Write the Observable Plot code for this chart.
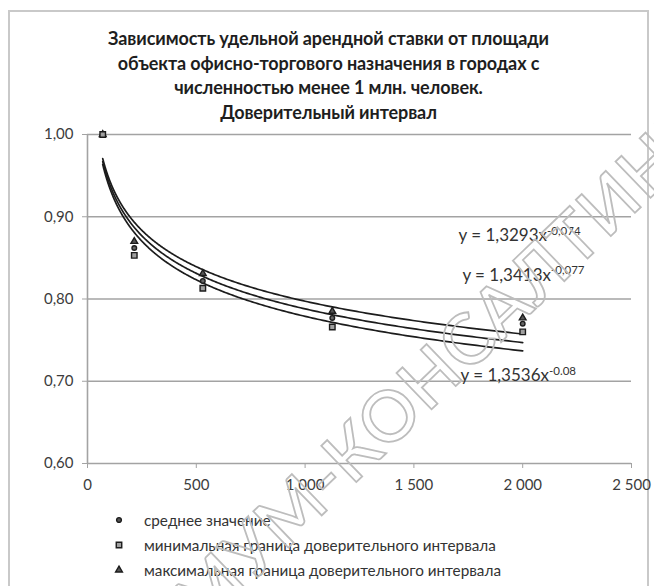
<!DOCTYPE html>
<html><head><meta charset="utf-8">
<script src="https://cdn.jsdelivr.net/npm/d3@7"></script>
<script src="https://cdn.jsdelivr.net/npm/@observablehq/plot@0.6"></script>
<style>
body{margin:0;background:#fff;font-family:Lato,"Open Sans",sans-serif;}
#wrap{position:relative;width:654px;height:586px;overflow:hidden;background:#fff;}
#frame{position:absolute;left:8px;top:10px;width:641px;height:620px;border:2px solid #c9c9c9;box-sizing:border-box;}
#title{position:absolute;left:8px;width:641px;top:26px;text-align:center;font-weight:bold;font-size:18px;line-height:24.5px;color:#1e1e1e;letter-spacing:-0.1px;}
#chart{position:absolute;left:0;top:118px;}
.li{position:absolute;left:112px;height:20px;line-height:20px;font-size:15.3px;color:#333;white-space:nowrap;}
.li svg{position:absolute;left:0;top:4px;}
.li span{position:absolute;left:32px;top:0;}
#wm{position:absolute;left:0;top:0;pointer-events:none;}
</style></head>
<body>
<div id="wrap">
  <div id="frame"></div>
  <div id="title">Зависимость удельной арендной ставки от площади<br>объекта офисно-торгового назначения в городах с<br>численностью менее 1 млн. человек.<br>Доверительный интервал</div>
  <div id="chart"></div>
  <div id="legend"></div>
</div>
<script>
// ---- data ----
const xVals    = [70, 215, 530, 1125, 2000];
const meanVals = [1.000, 0.862, 0.822, 0.777, 0.770];
const minVals  = [1.000, 0.853, 0.813, 0.766, 0.760];
const maxVals  = [1.000, 0.870, 0.831, 0.785, 0.777];

const seriesNames = ["среднее значение",
                     "минимальная граница доверительного интервала",
                     "максимальная граница доверительного интервала"];

// power trendlines y = a * x^b as printed on the chart (max, mean, min)
const trendA = [1.3293, 1.3413, 1.3536];
const trendB = [-0.074, -0.077, -0.08];
const eqLabels = ["y = 1,3293x^-0,074", "y = 1,3413x^-0,077", "y = 1,3536x^-0.08"];
const eqX = [1705, 1723, 1714];
const eqY = [0.877, 0.829, 0.707];

const yTicks = [0.6, 0.7, 0.8, 0.9, 1.0];
const xTicks = [0, 500, 1000, 1500, 2000, 2500];

// ---- build tables ----
const pts = [];
xVals.forEach((x, i) => {
  pts.push({x, y: minVals[i], s: "square"});
  pts.push({x, y: meanVals[i], s: "circle"});
  pts.push({x, y: maxVals[i], s: "triangle"});
});
const x0 = d3.min(xVals), x1 = d3.max(xVals);
const curve = [];
trendA.forEach((a, k) => {
  const b = trendB[k];
  for (let i = 0; i <= 300; i++) {
    const x = x0 * Math.pow(x1 / x0, i / 300);
    curve.push({k, x, y: a * Math.pow(x, b)});
  }
});
const eqs = eqLabels.map((t, i) => ({t, x: eqX[i], y: eqY[i]}));

const fmtY = d => d3.format(".2f")(d).replace(".", ",");
const fmtX = d => d3.format(",")(d).replace(/,/g, "\u00a0");

const FONT = "Lato, 'Open Sans', sans-serif";
const chart = Plot.plot({
  width: 654, height: 385,
  marginLeft: 87, marginRight: 23, marginTop: 16, marginBottom: 40,
  style: {fontFamily: FONT, fontSize: "15px", background: "transparent", overflow: "visible"},
  x: {domain: [0, 2500]},
  y: {domain: [0.6, 1.0]},
  marks: [
    Plot.ruleY(yTicks.filter(d => d > 0.6), {stroke: "#a3a3a3", strokeWidth: 1.6}),
    Plot.ruleX([0], {stroke: "#a3a3a3", strokeWidth: 1.6}),
    Plot.ruleY([0.6], {stroke: "#a3a3a3", strokeWidth: 1.6}),
    Plot.axisY(yTicks, {tickSize: 5, tickPadding: 9, tickFormat: fmtY, stroke: "#a3a3a3", fill: "#3c3c3c", fontSize: 15, label: null}),
    Plot.axisX(xTicks, {tickSize: 5, tickPadding: 11, tickFormat: fmtX, stroke: "#a3a3a3", fill: "#3c3c3c", fontSize: 15, label: null}),
    Plot.line(curve, {x: "x", y: "y", z: "k", stroke: "#1c1c1c", strokeWidth: 1.7, curve: "linear"}),
    Plot.dot(pts.filter(d => d.s === "triangle"), {x: "x", y: "y", symbol: "triangle", r: 2.5, stroke: "#1c1c1c", strokeWidth: 1.4, fill: "#555"}),
    Plot.dot(pts.filter(d => d.s === "circle"), {x: "x", y: "y", symbol: "circle", r: 2.3, stroke: "#1c1c1c", strokeWidth: 1.4, fill: "#666"}),
    Plot.dot(pts.filter(d => d.s === "square"), {x: "x", y: "y", symbol: "square", r: 3.1, stroke: "#1c1c1c", strokeWidth: 1.4, fill: "#a0a0a0"}),
    Plot.text(eqs, {x: "x", y: "y", text: "t", textAnchor: "start", fontSize: 17, fill: "#333", lineAnchor: "middle"})
  ]
});
// superscript exponents
d3.select(chart).selectAll("text").each(function() {
  const t = this.textContent;
  if (t.includes("^")) {
    const [a, b] = t.split("^");
    this.textContent = a;
    d3.select(this).append("tspan").attr("dy", "-0.55em").attr("font-size", "11.5px").text(b);
  }
});
document.getElementById("chart").append(chart);

// legend
const legY = [520, 545, 570];
const leg = document.getElementById("legend");
seriesNames.forEach((name, i) => {
  const row = document.createElement("div");
  row.className = "li";
  row.style.top = (legY[i] - 10) + "px";
  const s = d3.create("svg").attr("width", 14).attr("height", 12);
  const sym = d3.symbol(i === 0 ? d3.symbolCircle : i === 1 ? d3.symbolSquare : d3.symbolTriangle, i === 0 ? 18 : i === 1 ? 30 : 20)();
  s.append("path").attr("d", sym).attr("transform", "translate(7,6)")
    .attr("stroke", "#1c1c1c").attr("stroke-width", 1.4)
    .attr("fill", i === 1 ? "#a0a0a0" : "#555");
  row.append(s.node());
  const sp = document.createElement("span");
  sp.textContent = name;
  row.append(sp);
  leg.append(row);
});

// watermark
const wm = d3.create("svg").attr("id", "wm").attr("width", 654).attr("height", 586);
wm.append("text")
  .attr("x", 0).attr("y", 0)
  .attr("transform", "translate(364,437) rotate(-44)")
  .attr("text-anchor", "middle").attr("dominant-baseline", "central")
  .attr("font-family", FONT).attr("font-size", 70).attr("font-weight", 600)
  .attr("textLength", 918).attr("lengthAdjust", "spacing")
  .attr("fill", "none").attr("stroke", "#bdbdbd").attr("stroke-width", 1.8)
  .text("ОПТИМУМ-КОНСАЛТИНГ");
document.getElementById("wrap").append(wm.node());
</script>
</body></html>
